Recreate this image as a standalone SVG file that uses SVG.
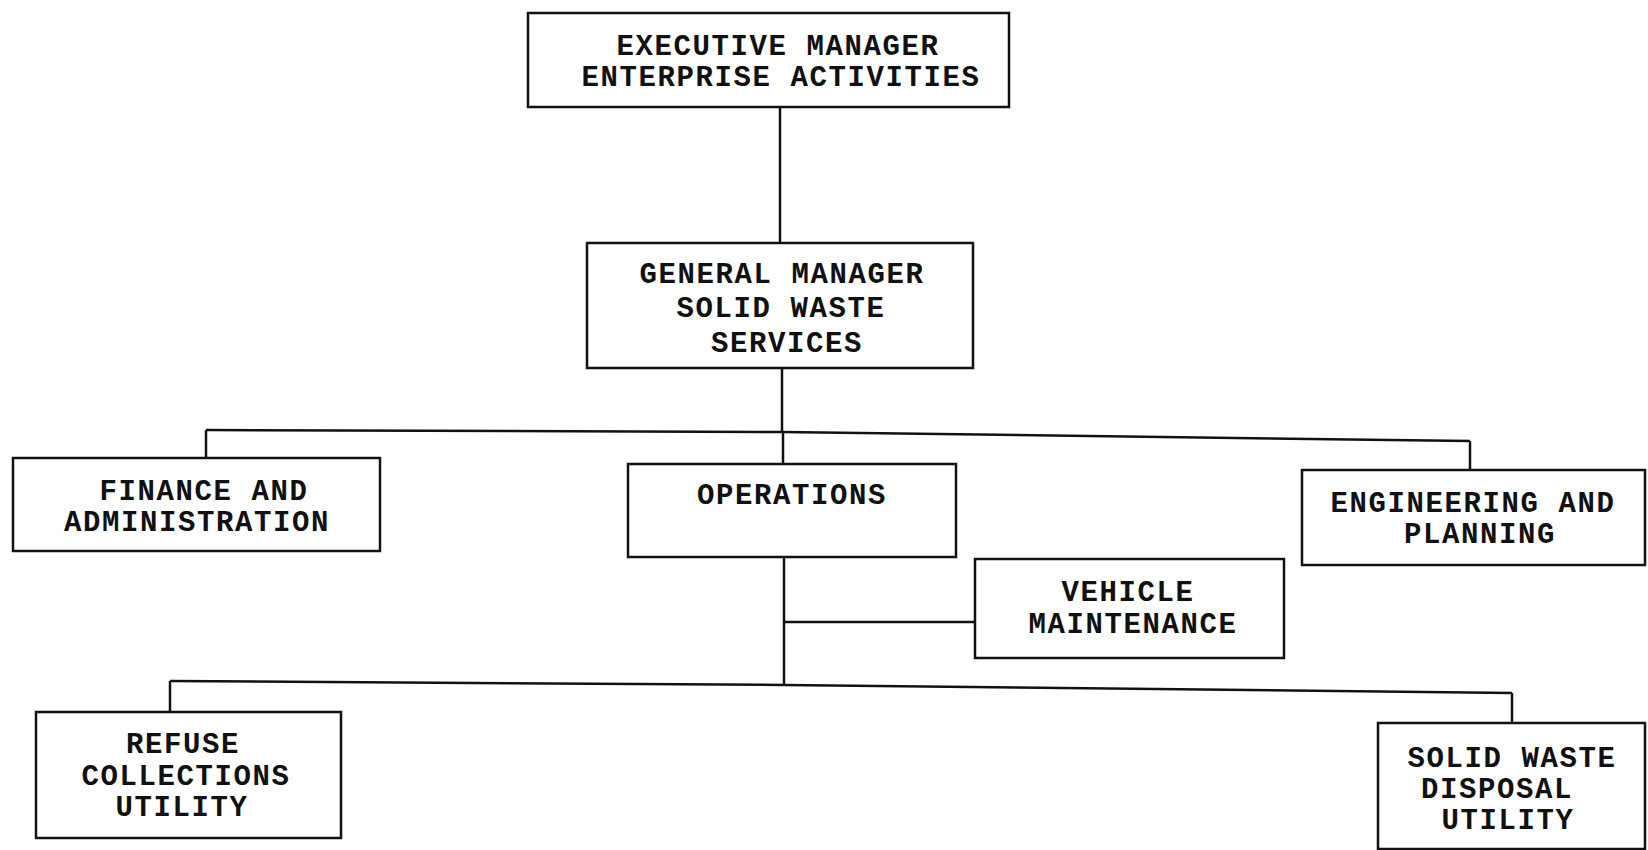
<svg xmlns="http://www.w3.org/2000/svg" width="1648" height="850" viewBox="0 0 1648 850">
<style>
.box{fill:#fff;stroke:#111;stroke-width:2.5}
.ln{fill:none;stroke:#111;stroke-width:2.5}
.t{font-family:"Liberation Mono","DejaVu Sans Mono",monospace;font-weight:bold;font-size:29px;letter-spacing:1.6px;fill:#111;text-anchor:middle}
</style>
<rect width="1648" height="850" fill="#fff"/>
<g id="connectors">
<path class="ln" d="M780 107 V243"/>
<path class="ln" d="M782 368 V432"/>
<polyline class="ln" points="206,430 782,432 1470,441"/>
<path class="ln" d="M206 430 V458"/>
<path class="ln" d="M783 432 V464"/>
<path class="ln" d="M1470 441 V470"/>
<path class="ln" d="M784 557 V685"/>
<path class="ln" d="M784 622 H975"/>
<polyline class="ln" points="170,681 784,685 1512,693"/>
<path class="ln" d="M170 681 V712"/>
<path class="ln" d="M1512 693 V723"/>
</g>
<g id="exec">
<rect class="box" x="528" y="13" width="481" height="94"/>
<text class="t" x="778" y="55">EXECUTIVE MANAGER</text>
<text class="t" x="781" y="86">ENTERPRISE ACTIVITIES</text>
</g>
<g id="gm">
<rect class="box" x="587" y="243" width="386" height="125"/>
<text class="t" x="782" y="283">GENERAL MANAGER</text>
<text class="t" x="781" y="317">SOLID WASTE</text>
<text class="t" x="787" y="352">SERVICES</text>
</g>
<g id="finance">
<rect class="box" x="13" y="458" width="367" height="93"/>
<text class="t" x="204" y="500">FINANCE AND</text>
<text class="t" x="197" y="531">ADMINISTRATION</text>
</g>
<g id="operations">
<rect class="box" x="628" y="464" width="328" height="93"/>
<text class="t" x="792" y="504">OPERATIONS</text>
</g>
<g id="engineering">
<rect class="box" x="1302" y="470" width="343" height="95"/>
<text class="t" x="1473" y="512">ENGINEERING AND</text>
<text class="t" x="1480" y="543">PLANNING</text>
</g>
<g id="vehicle">
<rect class="box" x="975" y="559" width="309" height="99"/>
<text class="t" x="1128" y="601">VEHICLE</text>
<text class="t" x="1133" y="633">MAINTENANCE</text>
</g>
<g id="refuse">
<rect class="box" x="36" y="712" width="305" height="126"/>
<text class="t" x="183" y="753">REFUSE</text>
<text class="t" x="186" y="785">COLLECTIONS</text>
<text class="t" x="182" y="816">UTILITY</text>
</g>
<g id="disposal">
<rect class="box" x="1378" y="723" width="267" height="126"/>
<text class="t" x="1512" y="767">SOLID WASTE</text>
<text class="t" x="1497" y="798">DISPOSAL</text>
<text class="t" x="1508" y="829">UTILITY</text>
</g>
</svg>
